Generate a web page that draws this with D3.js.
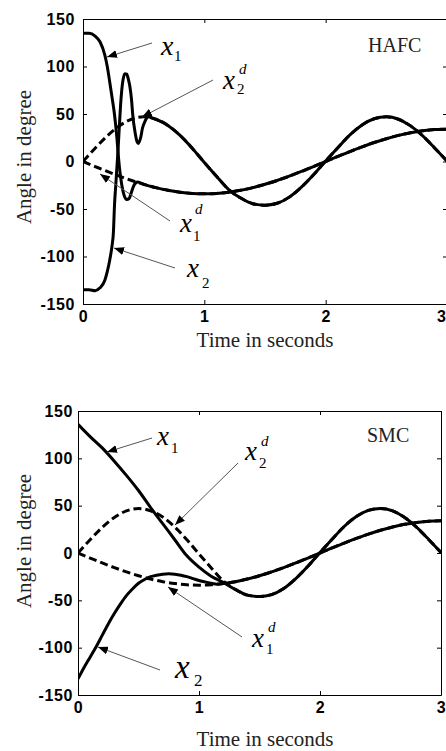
<!DOCTYPE html>
<html><head><meta charset="utf-8">
<script src="https://cdn.jsdelivr.net/npm/d3@7/dist/d3.min.js"></script>
<style>html,body{margin:0;padding:0;background:#fff;} svg{display:block}</style>
</head><body>
<svg id="c" width="446" height="751"></svg>
<script>
// ---------- data ----------
const xTicks = [0, 1, 2, 3];
const yTicks = [-150, -100, -50, 0, 50, 100, 150];
const xLabel = "Time in seconds";
const yLabel = "Angle in degree";

// desired trajectories (dashed)
const desTime = [0,0.1,0.2,0.3,0.4,0.5,0.6,0.7,0.8,0.9,1.0,1.1,1.2,1.3,1.4,1.5,1.6,1.7,1.8,1.9,2.0,2.1,2.2,2.3,2.4,2.5,2.6,2.7,2.8,2.9,3.0];
const x1dValues = [0,-5.3,-10.5,-15.4,-20,-24,-27.5,-30.3,-32.3,-33.6,-34,-33.6,-32.3,-30.3,-27.5,-24,-20,-15.4,-10.5,-5.3,0,5.3,10.5,15.4,20,24,27.5,30.3,32.3,33.6,34];
const x2dValues = [0,14,27,37.5,44.5,47,44.5,38,27.5,14,-1,-15.5,-29.5,-38.5,-44.5,-46,-44,-37.5,-27,-14,0.5,14.5,28,38.5,45,47,44.5,37.5,27,14,0.5];

// HAFC transients (solid), after which the states follow the desired curves
const hafcX1Time = [0,0.05,0.1,0.14,0.18,0.2,0.22,0.24,0.26,0.28,0.29,0.3,0.32,0.34,0.36,0.38,0.4,0.42,0.45,0.5];
const hafcX1Values = [135,135,132,126,112,100,84,67,49,24,8,-6,-25,-36,-40,-39,-32,-25,-21.5,-24];
const hafcX2Time = [0,0.05,0.1,0.14,0.18,0.2,0.22,0.24,0.25,0.26,0.27,0.28,0.29,0.3,0.31,0.32,0.33,0.345,0.36,0.375,0.385,0.4,0.41,0.43,0.445,0.455,0.475,0.49,0.51,0.535];
const hafcX2Values = [-135,-135,-136,-133,-125,-116,-104,-88,-76,-45,-25,-5,15,38,60,76,86,92.5,92,86,80,65,49,30,21,19,25,35,42,47];

// SMC transients (solid)
const smcX1Time = [0,0.1,0.2,0.3,0.4,0.5,0.6,0.7,0.8,0.9,1.0,1.1,1.2];
const smcX1Values = [136,123,111,97,82,66,48,31,14,-3,-15,-24.5,-31];
const smcX2Time = [0,0.05,0.1,0.15,0.2,0.25,0.3,0.35,0.4,0.45,0.5,0.55,0.6,0.65,0.7,0.75,0.8,0.85,0.9,0.95,1.0,1.05,1.1,1.15];
const smcX2Values = [-133,-121,-110,-99,-87,-75,-64,-54,-45,-38,-32,-28,-25,-23.5,-22.5,-22,-22.5,-23.5,-25,-27,-29,-30.5,-32,-33];

// ---------- helpers ----------
const zip = (t, v) => t.map((d, i) => [d, v[i]]);
const desX1 = zip(desTime, x1dValues);
const desX2 = zip(desTime, x2dValues);
// transient followed by the desired curve it converges to
const join = (t, v, des) => {
  const tr = zip(t, v);
  const last = t[t.length - 1];
  return tr.concat(des.filter(d => d[0] > last + 0.04));
};

const panels = [
  {
    title: "HAFC", left: 83, right: 447, top: 19, bottom: 304, yPad: 8, lastTickEnd: true,
    yLabelX: 31, yLabelY: 157, xLabelY: 347,
    solids: [join(hafcX1Time, hafcX1Values, desX1), join(hafcX2Time, hafcX2Values, desX2)],
    titlePos: [368, 52],
    notes: [
      {main: [161, 55], size: 28, sub: "1", subPos: [174, 61], arrow: [152, 43, 107, 57]},
      {main: [223, 89], size: 27, sub: "2", subPos: [237, 94], sup: "d", supPos: [239, 74], arrow: [213, 80, 142, 117]},
      {main: [180, 232], size: 27, sub: "1", subPos: [193, 241], sup: "d", supPos: [195, 214], arrow: [170, 221, 100, 174]},
      {main: [187, 277], size: 27, sub: "2", subPos: [202, 288], arrow: [175, 268, 114, 248]}
    ]
  },
  {
    title: "SMC", left: 78, right: 441, top: 411, bottom: 695, yPad: 5, lastTickEnd: false,
    yLabelX: 31, yLabelY: 541, xLabelY: 746,
    solids: [join(smcX1Time, smcX1Values, desX2), join(smcX2Time, smcX2Values, desX1)],
    titlePos: [367, 442],
    notes: [
      {main: [157, 445], size: 27, sub: "1", subPos: [171, 453], arrow: [152, 438, 107, 452]},
      {main: [245, 460], size: 27, sub: "2", subPos: [259, 468], sup: "d", supPos: [261, 446], arrow: [238, 463, 175, 525]},
      {main: [252, 647], size: 27, sub: "1", subPos: [266, 654], sup: "d", supPos: [268, 632], arrow: [242, 637, 168, 587]},
      {main: [175, 678], size: 33, sub: "2", subPos: [194, 686], subSize: 17, arrow: [160, 670, 98, 647]}
    ]
  }
];

const svg = d3.select("#c");
const defs = svg.append("defs");
defs.append("marker").attr("id", "ah")
  .attr("markerUnits", "userSpaceOnUse")
  .attr("markerWidth", 10).attr("markerHeight", 8)
  .attr("refX", 10).attr("refY", 4).attr("orient", "auto")
  .append("path").attr("d", "M0,0 L10,4 L0,8 Z").attr("fill", "#000");

const serif = "'Liberation Serif','Times New Roman',serif";
const sans = "'Liberation Sans',Arial,sans-serif";
const fmt = d => String(d);

panels.forEach((p, pi) => {
  const x = d3.scaleLinear().domain([0, 3]).range([p.left, p.right]);
  const y = d3.scaleLinear().domain([-150, 150]).range([p.bottom, p.top]);
  const g = svg.append("g");

  defs.append("clipPath").attr("id", "clip" + pi)
    .append("rect").attr("x", p.left).attr("y", p.top)
    .attr("width", p.right - p.left).attr("height", p.bottom - p.top);

  // axes (MATLAB style box with inward ticks)
  const styleAxis = sel => {
    sel.selectAll("path.domain").attr("stroke", "#000").attr("stroke-width", 1);
    sel.selectAll(".tick line").attr("stroke", "#000").attr("stroke-width", 1);
    sel.selectAll("text").attr("font-family", sans).attr("font-weight", "bold")
      .attr("font-size", 16).attr("fill", "#000").attr("letter-spacing", "0.6px");
  };
  const xb = g.append("g").attr("transform", `translate(0,${p.bottom})`)
    .call(d3.axisBottom(x).tickValues(xTicks).tickSize(-4).tickSizeOuter(0).tickPadding(7).tickFormat(fmt))
    .call(styleAxis);
  if (p.lastTickEnd) {
    // the reference crops the panel at the page edge; keep the last label inside
    xb.selectAll(".tick").filter(d => d === 3).select("text")
      .attr("text-anchor", "end").attr("x", 446 - x(3));
  }
  g.append("g").attr("transform", `translate(${p.left},0)`)
    .call(d3.axisLeft(y).tickValues(yTicks).tickSize(-4).tickSizeOuter(0).tickPadding(p.yPad).tickFormat(fmt))
    .call(styleAxis);
  g.append("g").attr("transform", `translate(0,${p.top})`)
    .call(d3.axisTop(x).tickValues(xTicks).tickSize(-4).tickSizeOuter(0).tickFormat(""))
    .call(styleAxis);
  g.append("g").attr("transform", `translate(${p.right},0)`)
    .call(d3.axisRight(y).tickValues(yTicks).tickSize(-4).tickSizeOuter(0).tickFormat(""))
    .call(styleAxis);

  const line = d3.line().x(d => x(d[0])).y(d => y(d[1])).curve(d3.curveMonotoneX);
  const plot = g.append("g").attr("clip-path", `url(#clip${pi})`);
  [desX1, desX2].forEach(d => plot.append("path").attr("d", line(d))
    .attr("fill", "none").attr("stroke", "#000").attr("stroke-width", 3)
    .attr("stroke-dasharray", "8,4"));
  p.solids.forEach(d => plot.append("path").attr("d", line(d))
    .attr("fill", "none").attr("stroke", "#000").attr("stroke-width", 3)
    .attr("stroke-linejoin", "round"));

  // axis labels
  g.append("text").attr("x", 265).attr("y", p.xLabelY)
    .attr("text-anchor", "middle").attr("font-family", serif).attr("font-size", 21)
    .attr("fill", "#222").text(xLabel);
  g.append("text").attr("transform", `translate(${p.yLabelX},${p.yLabelY}) rotate(-90)`)
    .attr("text-anchor", "middle").attr("font-family", serif).attr("font-size", 21)
    .attr("fill", "#222").text(yLabel);

  // title
  g.append("text").attr("x", p.titlePos[0]).attr("y", p.titlePos[1])
    .attr("font-family", serif).attr("font-size", 20).attr("fill", "#222").text(p.title);

  // annotations
  p.notes.forEach(n => {
    const a = n.arrow;
    g.append("line").attr("x1", a[0]).attr("y1", a[1]).attr("x2", a[2]).attr("y2", a[3])
      .attr("stroke", "#555").attr("stroke-width", 1).attr("marker-end", "url(#ah)");
    g.append("text").attr("x", n.main[0]).attr("y", n.main[1])
      .attr("font-family", serif).attr("font-style", "italic").attr("font-size", n.size)
      .attr("fill", "#000").text("x");
    if (n.sub) g.append("text").attr("x", n.subPos[0]).attr("y", n.subPos[1])
      .attr("font-family", serif).attr("font-size", n.subSize || 15).attr("fill", "#000").text(n.sub);
    if (n.sup) g.append("text").attr("x", n.supPos[0]).attr("y", n.supPos[1])
      .attr("font-family", serif).attr("font-style", "italic").attr("font-size", 15)
      .attr("fill", "#000").text(n.sup);
  });
});
</script>
</body></html>
